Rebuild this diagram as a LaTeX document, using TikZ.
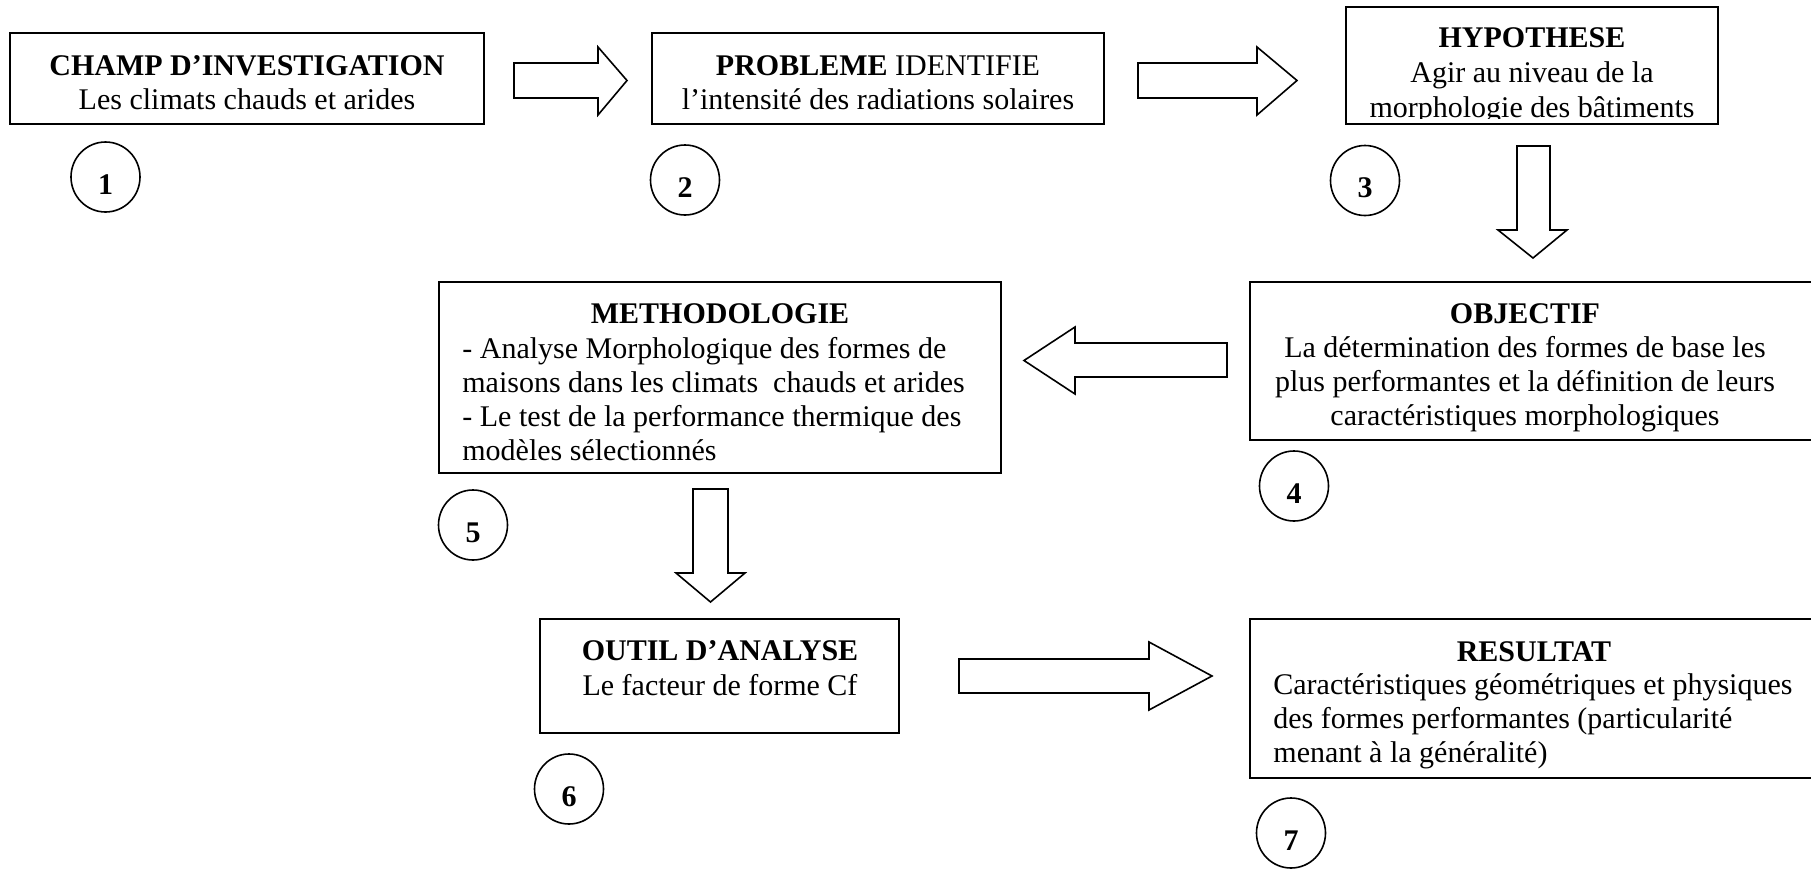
\documentclass[tikz,border=0pt]{standalone}
\usepackage{fontspec}
\setmainfont{Liberation Serif}
\usetikzlibrary{shapes.geometric}
\begin{document}
\begin{tikzpicture}[x=0.5pt,y=-0.5pt,
  boxframe/.style={draw, line width=1pt, rectangle, inner sep=0pt},
  openframe/.style={rectangle, inner sep=0pt},
  numcirc/.style={draw, line width=0.8pt, ellipse, minimum width=34.5pt, minimum height=35pt, inner sep=0pt},
  tx/.style={inner sep=0pt, font=\fontsize{15}{17}\selectfont},
  txw/.style={inner sep=0pt, font=\fontsize{15}{17.5}\selectfont},
  numtx/.style={inner sep=0pt, anchor=base, font=\fontsize{15}{17}\selectfont\bfseries},
  blockarr/.style={draw, line width=0.8pt, line join=miter, fill=white}]
\useasboundingbox (0,0) rectangle (1811,868);
\fill[white] (0,0) rectangle (1811,868);

% ---- boxes ----
\node[boxframe, minimum width=237pt, minimum height=45.5pt] (b1) at (247,78.5) {};
\node[tx, anchor=north, align=center] (t1) at (247,51.2)
  {\strut\textbf{CHAMP D’INVESTIGATION}\\Les climats chauds et arides};

\node[boxframe, minimum width=226pt, minimum height=45.5pt] (b2) at (878,78.5) {};
\node[tx, anchor=north, align=center] (t2) at (878,51.2)
  {\strut\textbf{PROBLEME} IDENTIFIE\\l’intensité des radiations solaires};

\node[boxframe, minimum width=186pt, minimum height=58.5pt] (b3) at (1532,65.5) {};
\begin{scope}
  \clip (1346,7) rectangle (1718,118.5);
  \node[txw, anchor=north, align=center] (t3) at (1532,23)
    {\strut\textbf{HYPOTHESE}\\Agir au niveau de la\\morphologie des bâtiments};
\end{scope}

\node[openframe, minimum width=280.5pt, minimum height=79pt] (b4) at (1530.5,361) {};
\draw[line width=1pt] (b4.north east) -- (b4.north west) -- (b4.south west) -- (b4.south east);
\node[tx, anchor=north, align=center] (t4) at (1525,299.2)
  {\strut\textbf{OBJECTIF}\\La détermination des formes de base les\\plus performantes et la définition de leurs\\caractéristiques morphologiques};

\node[boxframe, minimum width=281pt, minimum height=95.5pt] (b5) at (720,377.5) {};
\node[tx, anchor=north] (t5a) at (720,299.2) {\strut\textbf{METHODOLOGIE}};
\node[tx, anchor=north west, align=left] (t5b) at (462,334.2)
  {\strut- Analyse Morphologique des formes de\\maisons dans les climats\ \ chauds et arides\\- Le test de la performance thermique des\\modèles sélectionnés};

\node[boxframe, minimum width=179.5pt, minimum height=57pt] (b6) at (719.5,676) {};
\node[txw, anchor=north, align=center] (t6) at (720,635.5)
  {\strut\textbf{OUTIL D’ANALYSE}\\Le facteur de forme Cf};

\node[openframe, minimum width=280.5pt, minimum height=79.5pt] (b7) at (1530.5,698.5) {};
\draw[line width=1pt] (b7.north east) -- (b7.north west) -- (b7.south west) -- (b7.south east);
\node[tx, anchor=north] (t7a) at (1534,637.2) {\strut\textbf{RESULTAT}};
\node[tx, anchor=north west, align=left] (t7b) at (1273,670.2)
  {\strut Caractéristiques géométriques et physiques\\des formes performantes (particularité\\menant à la généralité)};

% ---- numbered circles ----
\node[numcirc] (n1) at (105.5,177) {};
\node[numtx] (d1) at ([yshift=-8.5pt]n1.center) {1};
\node[numcirc] (n2) at (685,180) {};
\node[numtx] (d2) at ([yshift=-8.5pt]n2.center) {2};
\node[numcirc] (n3) at (1365,180.5) {};
\node[numtx] (d3) at ([yshift=-8.5pt]n3.center) {3};
\node[numcirc] (n4) at (1294,486) {};
\node[numtx] (d4) at ([yshift=-8.5pt]n4.center) {4};
\node[numcirc] (n5) at (473,525) {};
\node[numtx] (d5) at ([yshift=-8.5pt]n5.center) {5};
\node[numcirc] (n6) at (569,789) {};
\node[numtx] (d6) at ([yshift=-8.5pt]n6.center) {6};
\node[numcirc] (n7) at (1291,833) {};
\node[numtx] (d7) at ([yshift=-8.5pt]n7.center) {7};

% ---- block arrows ----
\draw[blockarr] (514,63) -- (598,63) -- (598,47) -- (627,80.5) -- (598,115) -- (598,98) -- (514,98) -- cycle;
\draw[blockarr] (1138,63) -- (1257,63) -- (1257,47) -- (1297,80.5) -- (1257,115) -- (1257,98) -- (1138,98) -- cycle;
\draw[blockarr] (1517,146) -- (1550,146) -- (1550,230) -- (1567,230) -- (1533,258) -- (1498,230) -- (1517,230) -- cycle;
\draw[blockarr] (1227,343) -- (1075,343) -- (1075,327) -- (1024,360.5) -- (1075,394) -- (1075,377) -- (1227,377) -- cycle;
\draw[blockarr] (693,489) -- (728,489) -- (728,573) -- (745,573) -- (710.5,602) -- (676,573) -- (693,573) -- cycle;
\draw[blockarr] (959,659) -- (1149,659) -- (1149,642) -- (1212,676) -- (1149,710) -- (1149,693) -- (959,693) -- cycle;
\end{tikzpicture}
\end{document}
